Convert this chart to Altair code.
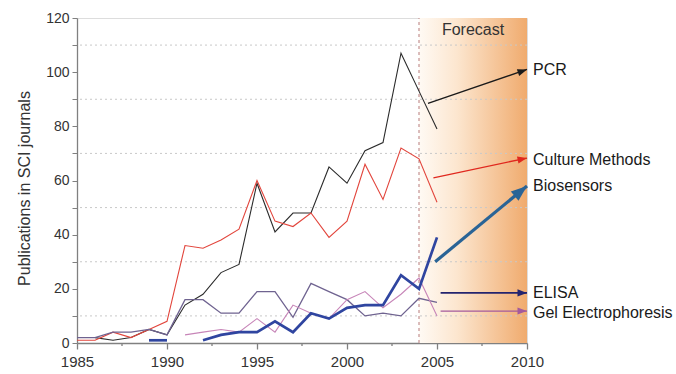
import math
import altair as alt
import pandas as pd

# ---------------- data ----------------
years = list(range(1985, 2006))
pcr = [None, 2, 1, 2, 5, 3, 14, 18, 26, 29, 59, 41, 48, 48, 65, 59, 71, 74, 107, 93, 79]
culture = [1, 1, 4, 2, 5, 8, 36, 35, 38, 42, 60, 45, 43, 48, 39, 45, 66, 53, 72, 68, 52]
elisa = [2, 2, 4, 4, 5, 3, 16, 16, 11, 11, 19, 19, 9.5, 22, 19, 16, 10, 11, 10, 16.5, 15]
gel = [None] * 6 + [3, 4, 5, 4, 9, 4, 14, 11, 9, 16, 19, 13, 18, 24, 10]
bio = [None] * 4 + [1, 1, None, 1, 3, 4, 4, 8, 4, 11, 9, 13, 14, 14, 25, 20, 39]

series_names = ["PCR", "Culture Methods", "ELISA", "Gel Electrophoresis", "Biosensors"]
series_values = [pcr, culture, elisa, gel, bio]
series_colors = ["#2b2b2b", "#e2453c", "#6f6390", "#c785b8", "#2f45a0"]
series_widths = [1.1, 1.1, 1.3, 1.1, 2.7]

# forecast arrows
arrow_names = ["PCR", "Culture Methods", "Biosensors", "ELISA", "Gel Electrophoresis"]
arrow_x0 = [2004.5, 2004.8, 2004.9, 2005.2, 2005.2]
arrow_y0 = [88.5, 61, 30, 18.5, 11.8]
arrow_x1 = [2010, 2010, 2010, 2010, 2010]
arrow_y1 = [101, 68.3, 58, 18.5, 11.8]
arrow_colors = ["#1a1a1a", "#e0281e", "#2a6496", "#23236e", "#a45a9c"]
arrow_widths = [1.3, 1.3, 3.2, 1.6, 1.3]
arrow_heads = [90, 90, 256, 90, 90]
label_y = [100.8, 67.6, 58, 18.5, 11.2]

grid_values = [10, 30, 50, 70, 90, 110]
forecast_start, forecast_end = 2004, 2010
forecast_label = "Forecast"
forecast_label_x, forecast_label_y = 2007, 115.5

x_domain = [1985, 2010]
y_domain = [0, 120]
x_major = [1985, 1990, 1995, 2000, 2005, 2010]
x_minor = [1987.5, 1992.5, 1997.5, 2002.5, 2007.5]
y_ticks = list(range(0, 121, 10))

W, H = 450, 325
FONT = "Liberation Sans"

# ---------------- frames ----------------
rows = []
for name, vals in zip(series_names, series_values):
    seg = 0
    prev_none = True
    for yr, v in zip(years, vals):
        if v is None:
            prev_none = True
            continue
        if prev_none:
            seg += 1
            prev_none = False
        rows.append({"series": name, "seg": f"{name}-{seg}", "year": yr, "value": v})
df = pd.DataFrame(rows)

px_year = W / (x_domain[1] - x_domain[0])
px_unit = H / (y_domain[1] - y_domain[0])
angles = []
for a, b, c, d in zip(arrow_x0, arrow_y0, arrow_x1, arrow_y1):
    ang = -math.degrees(math.atan2((d - b) * px_unit, (c - a) * px_year))
    angles.append(ang % 360)
arr = pd.DataFrame({
    "name": arrow_names, "x0": arrow_x0, "y0": arrow_y0, "x1": arrow_x1,
    "y1": arrow_y1, "color": arrow_colors, "w": arrow_widths,
    "head": arrow_heads, "angle": angles, "ly": label_y,
})

xs = alt.Scale(domain=x_domain, nice=False, zero=False)
ys = alt.Scale(domain=y_domain, nice=False, zero=True)

x_axis = alt.Axis(
    values=x_major, title=None, grid=False, format="d", labelFlush=False,
    tickSize=6, labelPadding=5, labelFontSize=15, labelColor="#333",
    domainColor="#808080", tickColor="#808080", domainWidth=1.3, tickWidth=1.3,
    labelFont=FONT,
)
y_axis = alt.Axis(
    values=y_ticks, title="Publications in SCI journals", grid=False, labelFlush=False,
    labelExpr="datum.value % 20 == 0 ? toString(datum.value) : ''",
    tickSize=5, labelPadding=3, labelFontSize=14, labelColor="#333",
    domainColor="#808080", tickColor="#808080", domainWidth=1.3, labelFont=FONT,
    titleFont=FONT, titleFontSize=16, titleFontWeight="normal", titleColor="#333",
    titleX=-53, titleY=170, titleAngle=270, titleBaseline="middle", titleAlign="center",
)


def X(field):
    return alt.X(field, type="quantitative", scale=xs, axis=x_axis)


def Y(field):
    return alt.Y(field, type="quantitative", scale=ys, axis=y_axis)


gradient = alt.Gradient(
    gradient="linear",
    stops=[
        alt.GradientStop(color="#fffaf4", offset=0),
        alt.GradientStop(color="#fce6cf", offset=0.35),
        alt.GradientStop(color="#f0ab6e", offset=1),
    ],
    x1=0, x2=1, y1=0, y2=0,
)
fc = pd.DataFrame({"x0": [forecast_start], "x1": [forecast_end],
                   "y0": [y_domain[0]], "y1": [y_domain[1]]})

bg = alt.Chart(fc).mark_rect(color=gradient).encode(
    x=X("x0"), x2="x1", y=Y("y0"), y2="y1")

grid = alt.Chart(pd.DataFrame({"g": grid_values})).mark_rule(
    color="#c8c8c8", strokeDash=[2, 3], strokeWidth=1).encode(y=Y("g"))

vline = alt.Chart(fc).mark_rule(color="#c89a9a", strokeDash=[3, 3], strokeWidth=1.3).encode(
    x=X("x0"), y=Y("y0"), y2="y1")

minor = alt.Chart(pd.DataFrame({"m": x_minor})).mark_rule(
    color="#808080", strokeWidth=1.3).encode(
    x=X("m"), y=alt.value(H), y2=alt.value(H + 3))

layers = [bg, grid, vline, minor]
for name, col, w in zip(series_names, series_colors, series_widths):
    layers.append(
        alt.Chart(df[df.series == name]).mark_line(color=col, strokeWidth=w).encode(
            x=X("year"), y=Y("value"), detail="seg:N")
    )

shafts = alt.Chart(arr).mark_rule().encode(
    x=X("x0"), y=Y("y0"), x2="x1", y2="y1",
    color=alt.Color("color:N", scale=None),
    strokeWidth=alt.StrokeWidth("w:Q", scale=None),
)
heads = alt.Chart(arr).mark_point(
    shape="M0,0L-2,-0.75L-2,0.75Z", filled=True, opacity=1, strokeWidth=0).encode(
    x=X("x1"), y=Y("y1"),
    color=alt.Color("color:N", scale=None),
    size=alt.Size("head:Q", scale=None),
    angle=alt.Angle("angle:Q", scale=None),
)
labels = alt.Chart(arr).mark_text(
    align="left", baseline="middle", dx=6, fontSize=16, font=FONT, color="#1a1a1a").encode(
    x=X("x1"), y=Y("ly"), text="name:N")

ftext = alt.Chart(pd.DataFrame({"t": [forecast_label], "x": [forecast_label_x],
                                "y": [forecast_label_y]})).mark_text(
    fontSize=16, font=FONT, color="#333", baseline="middle").encode(
    x=X("x"), y=Y("y"), text="t:N")

layers += [shafts, heads, labels, ftext]

chart = alt.layer(*layers).properties(
    width=W, height=H,
    padding={"left": 77, "top": 18, "right": 149, "bottom": 31},
    autosize=alt.AutoSizeParams(type="none"),
).configure_view(stroke=None).configure(background="white")

chart.save("out.html", embed_options={"renderer": "svg", "actions": False})
